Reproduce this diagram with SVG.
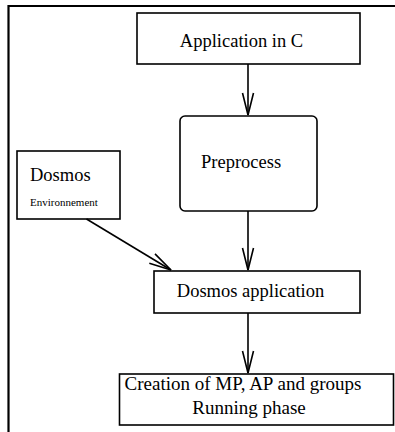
<svg xmlns="http://www.w3.org/2000/svg" width="395" height="432" viewBox="0 0 395 432">
<style>
.box{fill:#fff;stroke:#000;stroke-width:1.6}
.t{font-family:"Liberation Serif","Times New Roman",serif;font-size:18.5px;fill:#000}
.b{font-size:19px}
.s{font-family:"Liberation Serif","Times New Roman",serif;font-size:11px;fill:#000}
.c{stroke:#000;stroke-width:1.6;fill:none}
</style>
<defs>
<marker id="ah" markerUnits="userSpaceOnUse" markerWidth="30" markerHeight="16" viewBox="-24 -8 26 16" refX="0" refY="0" orient="auto" overflow="visible">
<path d="M-22,-5.5 L0,0 L-22,5.5" fill="none" stroke="#000" stroke-width="1.6"/>
</marker>
</defs>
<rect x="0" y="0" width="395" height="432" fill="#fff"/>
<path d="M8.5,432 V6 H395" fill="none" stroke="#000" stroke-width="2.2"/>
<g id="n-app">
<rect class="box" x="137" y="13" width="223" height="51"/>
<text class="t" x="241.5" y="47" text-anchor="middle">Application in C</text>
</g>
<g id="n-pre">
<rect class="box" x="180" y="116" width="137" height="95" rx="5"/>
<text class="t" x="201" y="168">Preprocess</text>
</g>
<g id="n-env">
<rect class="box" x="17" y="151" width="103" height="68"/>
<text class="t" x="30" y="181">Dosmos</text>
<text class="s" x="30" y="206">Environnement</text>
</g>
<g id="n-dapp">
<rect class="box" x="154" y="271" width="206" height="42"/>
<text class="t" x="250.5" y="297" text-anchor="middle">Dosmos application</text>
</g>
<g id="n-run">
<rect class="box" x="119.5" y="374" width="274" height="51"/>
<text class="t b" x="243" y="390" text-anchor="middle">Creation of MP, AP and groups</text>
<text class="t b" x="249" y="414" text-anchor="middle">Running phase</text>
</g>
<g id="connectors">
<line class="c" x1="248" y1="64" x2="248" y2="115" marker-end="url(#ah)"/>
<line class="c" x1="248" y1="211" x2="248" y2="270" marker-end="url(#ah)"/>
<line class="c" x1="86.5" y1="219" x2="171" y2="270" marker-end="url(#ah)"/>
<line class="c" x1="248" y1="313" x2="248" y2="373" marker-end="url(#ah)"/>
</g>
</svg>
